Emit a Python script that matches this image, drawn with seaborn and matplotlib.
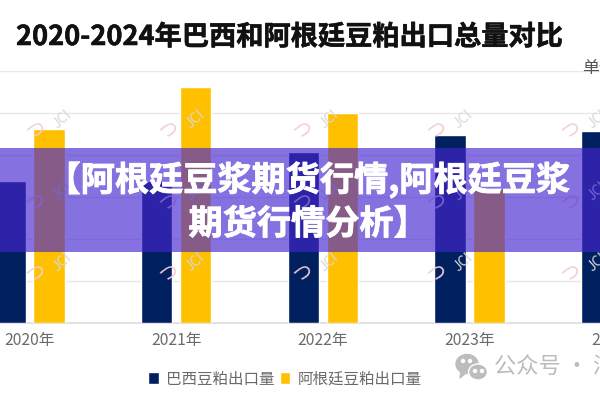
import numpy as np
import pandas as pd
import matplotlib
matplotlib.use("Agg")
import matplotlib.pyplot as plt
import matplotlib.patheffects as pe
from matplotlib.patches import Ellipse, Rectangle, Polygon
import seaborn as sns

years = ["2020年", "2021年", "2022年", "2023年", "2024年"]
brazil = [1680, 1690, 2030, 2230, 2280]
argentina = [2310, 2800, 2500, 1600, np.nan]
series_names = ["巴西豆粕出口量", "阿根廷豆粕出口量"]
title = "2020-2024年巴西和阿根廷豆粕出口总量对比"
unit = "单位：万吨"
banner = "【阿根廷豆浆期货行情,阿根廷豆浆\n期货行情分析】"
credit = "公众号 · 汇"
mark_rows = [125, 197, 268]
mark_cols = [45, 178, 312, 446, 580]

W, H = 600, 400
NAVY, GOLD = "#002060", "#FFC000"

sns.set_theme(style="white")
plt.rcParams["font.family"] = ["Noto Sans CJK SC", "DejaVu Sans"]

df = pd.DataFrame({
    "year": years * 2,
    "series": [series_names[0]] * 5 + [series_names[1]] * 5,
    "value": brazil + argentina,
})

fig = plt.figure(figsize=(6, 4), dpi=100, facecolor="white")


def fx(px):
    return px / W


def fy(py):
    return 1 - py / H


# The axes run past the right edge so the last group is cut off by the canvas
ax = fig.add_axes([0, fy(322.7), 1.2, (322.7 - 70.5) / H])
sns.barplot(data=df, x="year", y="value", hue="series", order=years,
            palette=[NAVY, GOLD], width=0.532, gap=0.2, saturation=1,
            ax=ax, zorder=3)
ax.set_xlim(-0.201, 4.707)
ax.set_ylim(0, 3000)
ax.set_yticks(np.arange(0, 3001, 500))
ax.set_xlabel("")
ax.set_ylabel("")
ax.tick_params(axis="y", left=False, labelleft=False)
ax.tick_params(axis="x", bottom=False, labelsize=11.3, labelcolor="#6a6a6a", pad=0.5)
ax.grid(axis="y", color="#e8e8e8", lw=1)
ax.set_axisbelow(True)
sns.despine(ax=ax, left=True, top=True, right=True, bottom=False)
ax.spines["bottom"].set_color("#dcdcdc")
ax.spines["bottom"].set_linewidth(1.2)

sns.move_legend(ax, "center", bbox_to_anchor=(fx(285), fy(379)),
                bbox_transform=fig.transFigure, ncol=2, frameon=False, title=None,
                fontsize=11.2, handlelength=0.65, handleheight=0.85,
                handletextpad=0.46, columnspacing=0.39, labelcolor="#6a6a6a")

# Diagonal watermark repeated across the plot area
for ry in mark_rows:
    for cx in mark_cols:
        fig.text(fx(cx + 17), fy(ry - 6), "JCI", fontsize=10, color="#d8d8d8",
                 rotation=42, ha="center", va="center", zorder=1)
        fig.text(fx(cx - 9), fy(ry + 6), "つ", fontsize=14, color="#f5ccd2",
                 rotation=20, ha="center", va="center", zorder=1)

fig.text(fx(16), fy(37), title, fontsize=19.6, fontweight="bold", color="#111111",
         ha="left", va="center",
         path_effects=[pe.withStroke(linewidth=0.4, foreground="#111111")])
fig.text(fx(582), fy(68), unit, fontsize=12.2, color="#555555", ha="left", va="center")

# Social account credit with its chat-bubble icon
icon_grey = "#bdbdbd"
fig.add_artist(Ellipse((fx(467), fy(364)), 22 / W, 19 / H, color=icon_grey, zorder=2))
fig.add_artist(Polygon([(fx(461), fy(371)), (fx(460), fy(378)), (fx(467), fy(372))],
                       closed=True, color=icon_grey, zorder=2))
fig.add_artist(Ellipse((fx(478), fy(372)), 19 / W, 16 / H, color=icon_grey,
                       ec="white", lw=1, zorder=3))
for ex, ey, col in [(463, 361, "white"), (470, 361, "white"),
                    (475, 371, "white"), (482, 371, "white")]:
    fig.add_artist(Ellipse((fx(ex), fy(ey)), 3 / W, 3 / H, color=col, zorder=4))
fig.text(fx(494), fy(366), credit, fontsize=16, color="#bcbcbc", ha="left", va="center")

# Translucent banner with the page headline across the middle
fig.add_artist(Rectangle((0, fy(251.5)), 1, (251.5 - 148) / H,
                         transform=fig.transFigure, facecolor="#4525D1",
                         edgecolor="none", alpha=0.65, zorder=5))
fig.text(fx(308), fy(201.5), banner, fontsize=24.6, fontweight="bold", color="white",
         ha="center", va="center", linespacing=1.28, zorder=6,
         path_effects=[pe.withStroke(linewidth=0.6, foreground="white")])

fig.savefig("out.png", dpi=100)
